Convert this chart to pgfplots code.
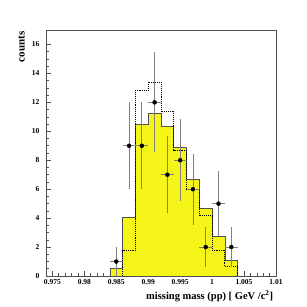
\documentclass[border=0pt]{standalone}
\usepackage{pgfplots}
\pgfplotsset{compat=1.18}
\usepackage{fontspec}
\setmainfont{Liberation Serif}
\definecolor{histyellow}{RGB}{245,245,25}
\definecolor{framegray}{RGB}{80,80,80}
\begin{document}
\begin{tikzpicture}
\useasboundingbox (0,0) rectangle (307pt,307pt);
\begin{axis}[
  at={(46pt,31pt)}, anchor=south west,
  scale only axis, width=230pt, height=246pt,
  xmin=0.974, xmax=1.01, ymin=0, ymax=17,
  xtick={0.975,0.98,0.985,0.99,0.995,1,1.005,1.01},
  xticklabels={0.975,0.98,0.985,0.99,0.995,1,1.005,1.01},
  ytick={0,2,4,6,8,10,12,14,16},
  minor x tick num=4, minor y tick num=3,
  tick align=inside, xtick pos=bottom, ytick pos=left,
  major tick length=4.5pt, minor tick length=2.5pt,
  axis line style={framegray, line width=0.9pt},
  tick style={framegray, line width=0.6pt},
  ticklabel style={font=\fontsize{7.5}{8}\selectfont\bfseries},
  yticklabel style={xshift=-3pt},
  /pgf/number format/assume math mode=true,
  scaled x ticks=false,
  xlabel={missing mass (pp) [ GeV /c$^{\mathbf{2}}$]},
  xlabel style={font=\fontsize{10.5}{12}\selectfont\bfseries, at={(axis description cs:1.003,-0.081)}, anchor=east},
  ylabel={counts},
  ylabel style={font=\fontsize{11}{12}\selectfont\bfseries, at={(axis description cs:-0.106,1.008)}, anchor=east},
]
\addplot[const plot mark left, fill=histyellow, draw=framegray, line width=0.6pt] coordinates {
 (0.984,0) (0.984,0.5) (0.986,4.06) (0.988,10.5) (0.990,11.26) (0.992,10.33)
 (0.994,8.9) (0.996,6.69) (0.998,4.68) (1.000,2.72) (1.002,1.1) (1.004,0)};
\addplot[const plot mark left, black, densely dotted, line width=0.9pt] coordinates {
 (0.986,0) (0.986,1.75) (0.988,12.82) (0.990,13.38) (0.992,11.37)
 (0.994,8.7) (0.996,5.95) (0.998,4.17) (1.000,1.8) (1.002,0.64) (1.004,0)};
\addplot[only marks, mark=*, mark size=2pt, black,
  error bars/.cd, x dir=both, x explicit, y dir=both, y explicit,
  error mark=none, error bar style={gray, line width=0.7pt}]
  table[x=x, y=y, x error=ex, y error=ey] {
x y ex ey
0.985 1 0.001 1
0.987 9 0.001 3
0.989 9 0.001 3
0.991 12 0.001 3.46
0.993 7 0.001 2.65
0.995 8 0.001 2.83
0.997 6 0.001 2.45
0.999 2 0.001 1.41
1.001 5 0.001 2.24
1.003 2 0.001 1.41
};
\end{axis}
\end{tikzpicture}
\end{document}
